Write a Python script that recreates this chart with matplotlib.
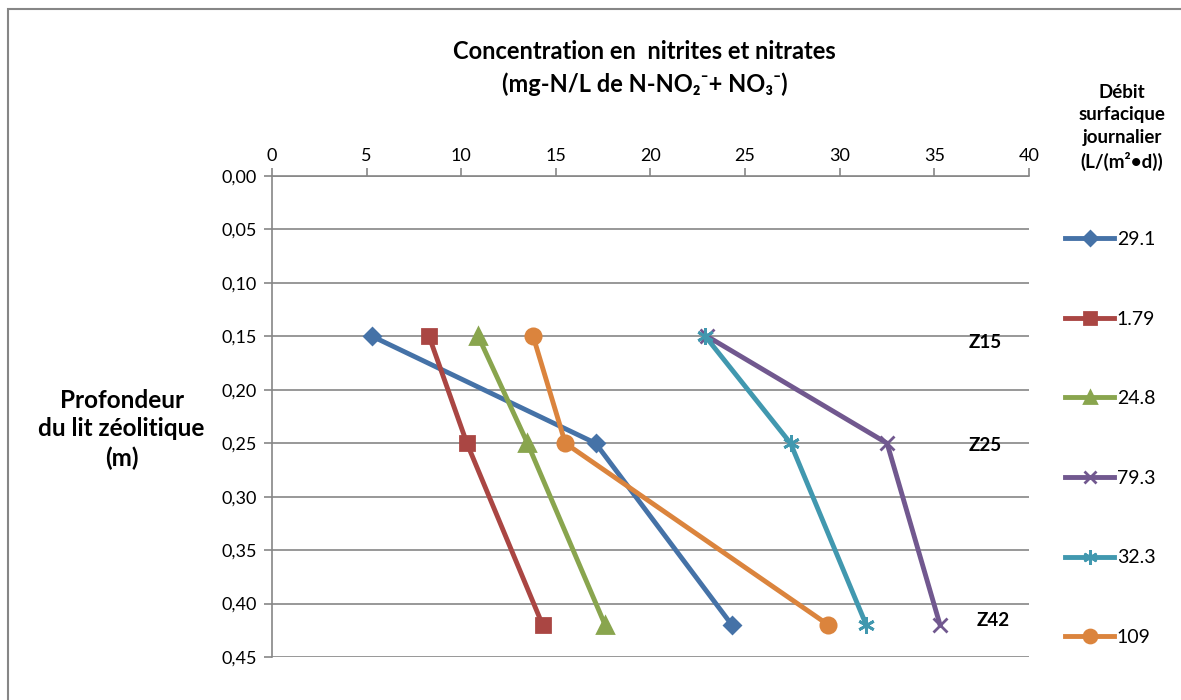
import matplotlib.pyplot as plt
from matplotlib.ticker import FuncFormatter, MultipleLocator

plt.rcParams['font.family'] = ['Lato', 'DejaVu Sans']
plt.rcParams['mathtext.default'] = 'regular'

depth = [0.15, 0.25, 0.42]
labels = ['29.1', '1.79', '24.8', '79.3', '32.3', '109']
s_291 = [5.3, 17.1, 24.3]
s_179 = [8.3, 10.3, 14.3]
s_248 = [10.9, 13.5, 17.6]
s_793 = [23.0, 32.5, 35.3]
s_323 = [22.9, 27.4, 31.4]
s_109 = [13.8, 15.5, 29.4]
zones = ['Z15', 'Z25', 'Z42']

series = [s_291, s_179, s_248, s_793, s_323, s_109]
colors = ['#4572A7', '#AA4643', '#89A54E', '#71588F', '#4198AF', '#DB843D']
markers = ['D', 's', '^', 'x', (6, 2, 0), 'o']
msizes = [8, 10, 11, 10, 12, 11]

fig = plt.figure(figsize=(11.81, 7), dpi=100)
ax = fig.add_axes([0.2303, 0.0614, 0.641, 0.6871])

handles = []
for vals, lab, c, m, ms in zip(series, labels, colors, markers, msizes):
    h, = ax.plot(vals, depth, color=c, lw=3.5, marker=m, ms=ms, mew=2, label=lab,
                 clip_on=False, zorder=3)
    handles.append(h)

ax.set_xlim(0, 40)
ax.set_ylim(0.45, 0)
ax.xaxis.set_major_locator(MultipleLocator(5))
ax.yaxis.set_major_locator(MultipleLocator(0.05))
ax.yaxis.set_major_formatter(FuncFormatter(lambda v, p: f'{v:.2f}'.replace('.', ',')))
ax.xaxis.tick_top()
ax.tick_params(axis='both', labelsize=13, color='#868686', length=6, width=1.2)
ax.tick_params(axis='x', pad=3)
ax.tick_params(axis='y', pad=5)
ax.grid(axis='y', color='#868686', lw=1.2)
for s in ['right', 'bottom']:
    ax.spines[s].set_visible(False)
ax.spines['left'].set_color('#868686')
ax.spines['left'].set_linewidth(1.2)
ax.spines['top'].set_color('#868686')
ax.spines['top'].set_linewidth(1.2)

fig.text(0.546, 0.926, 'Concentration en  nitrites et nitrates', ha='center', va='center',
         fontsize=17, fontweight='bold')
fig.text(0.546, 0.880, '(mg-N/L de N-NO\u2082\u207b+ NO\u2083\u207b)', ha='center', va='center',
         fontsize=17, fontweight='bold')

fig.text(0.103, 0.387, 'Profondeur\ndu lit zéolitique\n(m)', ha='center', va='center',
         fontsize=17.5, fontweight='bold', linespacing=1.3)

zx = [0.834, 0.834, 0.841]
zy = [0.510, 0.363, 0.113]
for z, x, y in zip(zones, zx, zy):
    fig.text(x, y, z, ha='center', va='center', fontsize=13.5, fontweight='bold')

fig.text(0.950, 0.818, 'Débit\nsurfacique\njournalier\n(L/(m²•d))', ha='center', va='center',
         fontsize=13.5, fontweight='bold', linespacing=1.4)

leg = fig.legend(handles=handles, loc='center left', bbox_to_anchor=(0.902, 0.3736),
                 frameon=False, fontsize=14, handlelength=2.5, labelspacing=3.22,
                 handletextpad=0.15, borderaxespad=0, borderpad=0, markerscale=0.85)

border = plt.Rectangle((0.0068, -0.05), 1.2, 1.037, transform=fig.transFigure, fill=False,
                       edgecolor='#868686', lw=1.5)
fig.add_artist(border)

fig.savefig('out.png', dpi=100)
